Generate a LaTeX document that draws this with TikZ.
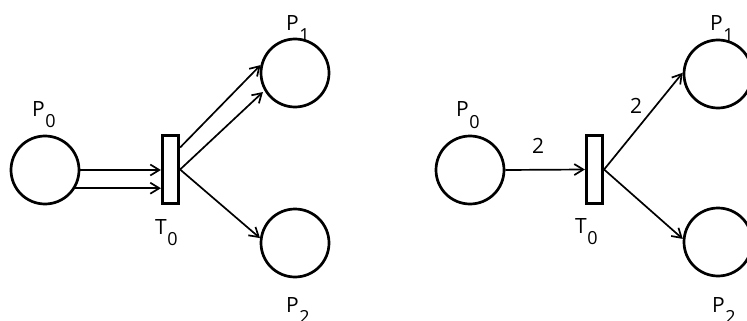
\documentclass[tikz,border=0pt]{standalone}
\usepackage{fontspec}
\setmainfont{Open Sans}
\usetikzlibrary{arrows.meta,calc}
\newcommand{\plbl}[2]{#1\kern0.5pt\raisebox{-11pt}{\fontsize{18}{18}\selectfont #2}}
\begin{document}
\begin{tikzpicture}[x=1pt,y=-1pt,
  place/.style={circle,draw,line width=2.7pt,minimum size=68pt,inner sep=0pt},
  trans/.style={rectangle,draw,line width=2.7pt,minimum width=16.5pt,minimum height=68.5pt,inner sep=0pt},
  arc/.style={line width=1.7pt,-{Straight Barb[length=9pt,width=11pt,line width=1.7pt]}},
  lab/.style={anchor=base west,inner sep=0pt,font=\fontsize{21}{21}\selectfont}]
\useasboundingbox (0,0) rectangle (747,321);
\clip (0,0) rectangle (747,321);
% left net
\node[place] (lP0) at (45,170) {};
\node[place] (lP1) at (295,73) {};
\node[place] (lP2) at (295,243) {};
\node[trans] (lT0) at (170.5,169.5) {};
\node[lab] (llP0) at (32,116) {\plbl{P}{0}};
\node[lab] (llP1) at (286,31) {\plbl{P}{1}};
\node[lab] (llP2) at (286,312) {\plbl{P}{2}};
\node[lab] (llT0) at (155,234) {\plbl{T}{0}};
\draw[arc] (lP0.east) -- (lP0.east -| lT0.west);
\draw[arc] (lP0.-31) -- (lP0.-31 -| lT0.west);
\draw[arc] ($(lT0.east)+(0,-22)$) -- (lP1.167);
\draw[arc,shorten >=2pt] (lT0.east) -- (lP1.210);
\draw[arc] (lT0.east) -- (lP2.172);
% right net
\node[place] (rP0) at (470,170) {};
\node[place] (rP1) at (718,74) {};
\node[place] (rP2) at (718,242) {};
\node[trans] (rT0) at (594.5,169.5) {};
\node[lab] (rlP0) at (456,117) {\plbl{P}{0}};
\node[lab] (rlP1) at (710,31) {\plbl{P}{1}};
\node[lab] (rlP2) at (712,312) {\plbl{P}{2}};
\node[lab] (rlT0) at (575,233) {\plbl{T}{0}};
\node[lab] (rw1) at (532,153) {2};
\node[lab] (rw2) at (630,113) {2};
\draw[arc] (rP0.east) -- (rT0.west);
\draw[arc] (rT0.east) -- (rP1.178);
\draw[arc] (rT0.east) -- (rP2.175);
\end{tikzpicture}
\end{document}
